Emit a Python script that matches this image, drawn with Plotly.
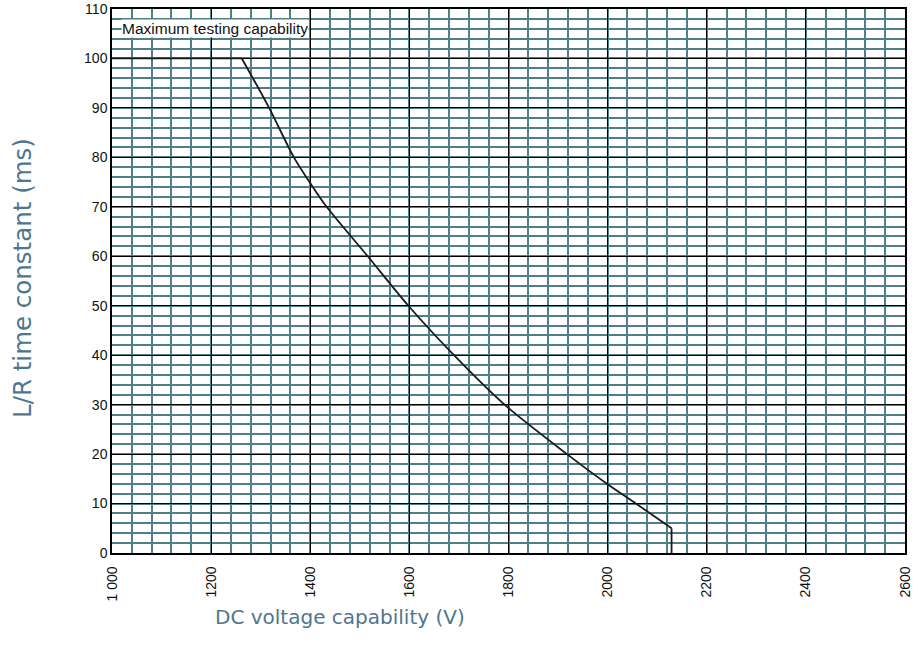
import plotly.graph_objects as go

# flat limit, curved region, and final vertical drop
flat_v = [1000, 1262]
flat_t = [100, 100]
curve_v = [1262, 1317, 1367, 1400, 1433, 1516, 1598, 1690, 1792, 1918, 2000, 2057, 2129]
curve_t = [100, 90, 80, 74.8, 70, 60, 50, 40, 30, 20, 13.9, 10, 5]
drop_v = [2129, 2129]
drop_t = [5, 0]

x_tickvals = [1000, 1200, 1400, 1600, 1800, 2000, 2200, 2400, 2600]
x_ticktext = ["1 000", "1200", "1400", "1600", "1800", "2000", "2200", "2400", "2600"]
y_tickvals = [0, 10, 20, 30, 40, 50, 60, 70, 80, 90, 100, 110]

label_text = "Maximum testing capability"
x_title = "DC voltage capability (V)"
y_title = "L/R time constant (ms)"

teal = "#4f8088"
title_color = "#4f7590"
line_style = dict(color="#1a1a1a", width=1.8)

fig = go.Figure()
fig.add_trace(go.Scatter(x=flat_v, y=flat_t, mode="lines", line=line_style,
                         showlegend=False, hoverinfo="skip"))
fig.add_trace(go.Scatter(x=curve_v, y=curve_t, mode="lines",
                         line=dict(**line_style, shape="spline", smoothing=0.8),
                         showlegend=False, hoverinfo="skip"))
fig.add_trace(go.Scatter(x=drop_v, y=drop_t, mode="lines", line=line_style,
                         showlegend=False, hoverinfo="skip"))

fig.add_annotation(x=1018, y=106, xref="x", yref="y", text=label_text,
                   showarrow=False, xanchor="left", yanchor="middle",
                   bgcolor="white", borderpad=0,
                   font=dict(family="Liberation Sans, Arial", size=15.5, color="#111111"))

L, R, T, B = 112, 8, 9, 110
PW, PH = 913 - L - R, 663 - T - B

fig.add_annotation(x=(340 - L) / PW, y=-(617 - (T + PH)) / PH, xref="paper", yref="paper",
                   text=x_title, showarrow=False, xanchor="center", yanchor="middle",
                   font=dict(family="DejaVu Sans, Verdana", size=20, color=title_color))
fig.add_annotation(x=(22 - L) / PW, y=((T + PH) - 278) / PH, xref="paper", yref="paper",
                   text=y_title, showarrow=False, xanchor="center", yanchor="middle", textangle=-90,
                   font=dict(family="DejaVu Sans, Verdana", size=24.5, color=title_color))

axis_common = dict(showline=True, linecolor="black", linewidth=1.5, mirror=True,
                   gridcolor="black", gridwidth=1.2, zeroline=False, ticks="", automargin=False,
                   tickfont=dict(family="Liberation Sans, Arial", size=14, color="#111111"))

fig.update_xaxes(range=[1000, 2600], tickmode="array", tickvals=x_tickvals, ticktext=x_ticktext,
                 tickangle=-90, ticklabelstandoff=6,
                 minor=dict(dtick=40, tick0=1000, showgrid=True, gridcolor=teal, gridwidth=1.5, ticks=""),
                 **axis_common)
fig.update_yaxes(range=[0, 110], tickmode="array", tickvals=y_tickvals,
                 minor=dict(dtick=2, tick0=0, showgrid=True, gridcolor=teal, gridwidth=1.5, ticks=""),
                 **axis_common)

fig.update_layout(width=913, height=663, plot_bgcolor="white", paper_bgcolor="white",
                  margin=dict(l=L, r=R, t=T, b=B))

fig.write_html("out.html", config={"displayModeBar": False},
               post_script="document.body.style.margin='0px';")
